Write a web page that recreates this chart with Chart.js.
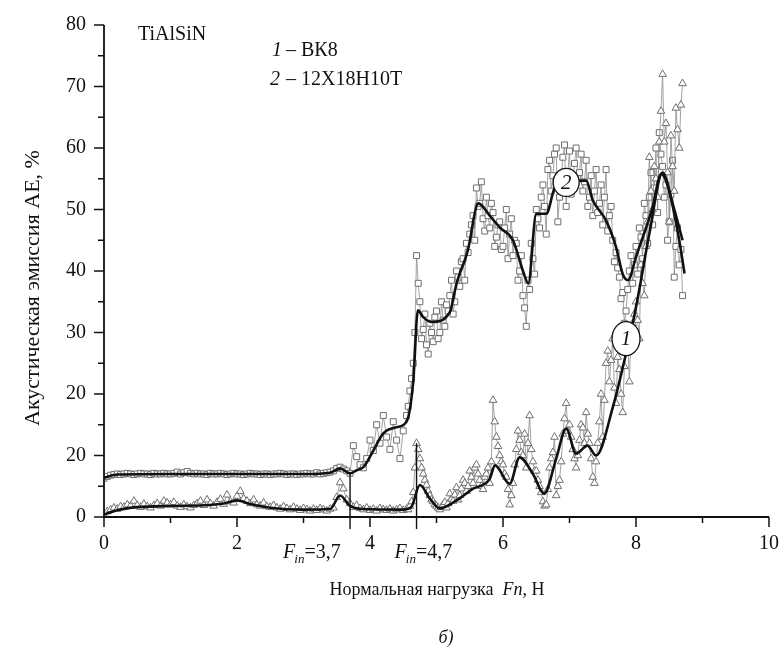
<!DOCTYPE html>
<html lang="ru">
<head>
<meta charset="UTF-8">
<title>TiAlSiN — акустическая эмиссия</title>
<script src="https://cdn.jsdelivr.net/npm/chart.js"></script>
<style>
  html, body { margin: 0; padding: 0; background: #fff; }
  #wrap { width: 783px; height: 648px; }
</style>
</head>
<body>
<div id="wrap"><canvas id="aeChart"></canvas></div>
<script>
// normal load Fn, N (sampling grid of the raw records)
const loadX = [
  0.00,0.05,0.10,0.15,0.20,0.25,0.30,0.35,0.40,0.45,
  0.50,0.55,0.60,0.65,0.70,0.75,0.80,0.85,0.90,0.95,
  1.00,1.05,1.10,1.15,1.20,1.25,1.30,1.35,1.40,1.45,
  1.50,1.55,1.60,1.65,1.70,1.75,1.80,1.85,1.90,1.95,
  2.00,2.05,2.10,2.15,2.20,2.25,2.30,2.35,2.40,2.45,
  2.50,2.55,2.60,2.65,2.70,2.75,2.80,2.85,2.90,2.95,
  3.00,3.05,3.10,3.15,3.20,3.25,3.30,3.35,3.40,3.45,
  3.50,3.55,3.60,3.65,3.70,3.75,3.80,3.85,3.90,3.95,
  4.00,4.05,4.10,4.15,4.20,4.25,4.30,4.35,4.40,4.45,
  4.50,4.55,4.60,4.65,4.70,4.75,4.80,4.85,4.90,4.95,
  5.00,5.05,5.10,5.15,5.20,5.25,5.30,5.35,5.40,5.45,
  5.50,5.55,5.60,5.65,5.70,5.75,5.80,5.85,5.90,5.95,
  6.00,6.05,6.10,6.15,6.20,6.25,6.30,6.35,6.40,6.45,
  6.50,6.55,6.60,6.65,6.70,6.75,6.80,6.85,6.90,6.95,
  7.00,7.05,7.10,7.15,7.20,7.25,7.30,7.35,7.40,7.45,
  7.50,7.55,7.60,7.65,7.70,7.75,7.80,7.85,7.90,7.95,
  8.00,8.05,8.10,8.15,8.20,8.25,8.30,8.35,8.40,8.45,
  8.50,8.55,8.60,8.65,8.70
];
// extra records between the grid points above, once fracture starts
const loadXMid = [
  4.575,4.625,4.675,4.725,4.775,4.825,4.875,4.925,4.975,
  5.025,5.075,5.125,5.175,5.225,5.275,5.325,5.375,5.425,5.475,
  5.525,5.575,5.625,5.675,5.725,5.775,5.825,5.875,5.925,5.975,
  6.025,6.075,6.125,6.175,6.225,6.275,6.325,6.375,6.425,6.475,
  6.525,6.575,6.625,6.675,6.725,6.775,6.825,6.875,6.925,6.975,
  7.025,7.075,7.125,7.175,7.225,7.275,7.325,7.375,7.425,7.475,
  7.525,7.575,7.625,7.675,7.725,7.775,7.825,7.875,7.925,7.975,
  8.025,8.075,8.125,8.175,8.225,8.275,8.325,8.375,8.425,8.475,
  8.525,8.575,8.625,8.675
];

// curve 1 — ВК8, raw AE, %
const aeVK8 = [
  0.3,0.9,1.2,1.5,1.3,1.7,1.6,2.0,1.8,2.6,
  1.9,1.6,2.1,1.7,1.5,1.9,2.2,1.8,2.6,2.3,
  2.0,2.4,1.8,1.6,2.0,1.7,1.5,1.9,2.2,2.6,
  1.9,2.8,2.2,1.8,2.4,2.9,2.1,3.6,2.5,2.3,
  3.4,4.2,3.0,2.6,2.2,2.8,2.0,1.8,2.3,1.7,
  1.6,1.9,1.5,1.3,1.7,1.4,1.2,1.6,1.3,1.1,
  1.4,1.2,1.0,1.3,1.1,1.4,1.2,1.0,1.3,1.5,
  3.2,5.6,4.6,2.8,2.2,1.6,1.9,1.4,1.2,1.5,
  1.1,1.3,1.0,1.4,1.2,1.1,1.3,1.0,1.2,1.4,
  1.1,1.3,1.8,4.0,12.0,9.5,7.0,5.2,3.5,2.5,
  1.8,1.2,2.0,1.5,3.8,2.6,4.8,3.5,6.0,4.2,
  7.5,5.5,8.5,6.0,4.5,7.0,5.5,19.0,13.0,10.0,
  8.5,6.5,2.0,5.5,11.0,12.5,10.0,8.0,16.5,9.0,
  7.5,5.0,2.5,2.0,8.0,10.5,3.5,6.0,13.5,18.5,
  15.0,11.0,8.0,12.5,14.5,17.0,12.0,6.5,9.0,15.5,
  13.0,25.0,22.0,29.0,18.5,24.0,17.0,27.0,22.0,31.5,
  35.0,29.0,38.0,44.0,58.5,50.0,55.0,61.0,72.0,64.0,
  48.0,57.0,66.5,60.0,70.5
];
const aeVK8Mid = [
  1.2,2.5,8.0,11.0,8.0,6.0,4.2,2.8,2.0,
  1.5,1.6,2.4,2.2,2.9,3.6,2.8,4.6,5.5,5.0,
  6.5,8.0,7.0,5.0,6.5,8.0,9.0,15.5,11.5,9.0,
  7.0,4.5,3.5,8.5,14.0,10.5,13.5,12.0,11.0,7.5,
  6.0,4.0,1.8,4.5,9.5,13.0,5.0,9.0,16.0,14.0,
  13.0,9.5,10.0,15.0,12.0,13.5,9.5,5.5,12.0,20.0,
  19.0,27.0,25.5,21.0,26.0,20.0,24.5,29.0,30.0,33.0,
  32.0,41.0,36.0,48.0,53.0,57.0,52.0,66.0,61.0,56.0,
  62.0,53.0,63.0,67.0
];

// curve 2 — 12Х18Н10Т, raw AE, %
const aeSteel = [
  6.3,6.6,6.8,6.9,7.0,6.9,7.0,7.1,7.0,6.9,
  7.0,7.1,7.0,7.0,6.9,7.1,7.0,7.0,7.1,7.0,
  7.0,7.1,7.3,7.0,7.2,7.4,7.1,7.0,7.1,7.0,
  7.0,6.9,7.1,7.0,7.0,7.1,7.0,6.9,7.0,7.1,
  7.0,7.0,6.9,7.0,7.1,7.0,7.0,6.9,7.0,7.0,
  6.9,7.0,7.0,7.1,7.0,6.9,7.0,7.0,6.9,7.0,
  7.0,7.1,7.0,7.0,7.2,7.0,7.1,7.2,7.3,7.5,
  7.9,8.1,7.8,7.5,7.1,11.6,9.8,8.5,8.0,9.5,
  12.5,10.8,15.0,12.0,16.5,13.0,11.0,15.5,12.5,9.5,
  14.0,16.5,20.5,25.0,42.5,35.0,30.5,28.0,31.5,28.5,
  33.5,30.0,32.0,34.5,36.0,33.0,40.0,37.5,42.0,44.5,
  46.0,49.0,53.5,51.0,48.5,52.0,47.0,49.5,45.5,48.0,
  44.0,50.0,46.0,42.5,44.5,40.0,36.0,31.0,37.0,42.0,
  50.0,47.0,54.0,46.0,58.0,55.5,60.0,52.0,58.5,50.5,
  59.5,54.0,60.0,56.0,53.0,58.0,52.0,49.0,56.5,51.0,
  47.5,56.5,49.0,45.0,43.0,39.0,36.5,33.5,40.0,38.0,
  44.0,47.0,42.0,49.0,52.0,47.5,60.0,62.5,57.0,54.0,
  48.0,58.0,44.0,41.0,36.0
];
const aeSteelMid = [
  18.0,22.5,30.0,38.0,29.0,33.0,26.5,30.0,32.5,
  29.0,35.0,31.0,33.5,38.5,35.0,39.0,41.5,38.5,43.0,
  47.5,45.0,50.5,54.5,46.5,49.0,51.0,44.0,47.5,43.5,
  47.0,42.0,48.5,45.0,38.5,42.5,34.0,38.5,44.5,39.5,
  48.5,52.0,50.5,56.5,53.0,59.0,48.0,55.0,60.5,56.0,
  52.5,57.5,55.0,59.0,54.5,50.5,55.5,53.0,49.5,54.0,
  52.0,46.5,50.5,41.5,40.5,35.5,31.5,37.0,42.5,41.0,
  39.5,45.5,51.0,44.5,56.0,53.5,49.5,59.0,52.0,45.0,
  52.5,39.0,47.0,43.5
];

// smoothed curves
const fitX1 = [0,0.2,0.5,1.0,1.5,1.8,2.0,2.2,2.5,3.0,3.4,3.55,3.7,3.9,4.5,4.62,4.75,4.9,5.05,5.3,5.55,5.8,5.88,6.1,6.25,6.45,6.62,6.8,6.95,7.1,7.27,7.4,7.65,7.85,8.0,8.2,8.4,8.55,8.7];
const fitY1 = [0.4,1.1,1.6,1.8,1.9,2.2,2.7,2.1,1.5,1.2,1.3,3.5,1.8,1.3,1.2,1.6,5.2,3.0,1.4,2.7,4.6,6.2,8.4,5.4,9.7,7.0,3.8,9.5,14.4,10.3,11.6,10.0,17.8,26.6,34.1,46.0,56.0,51.0,45.0];
const fitX2 = [0,0.2,1.0,2.0,3.0,3.4,3.55,3.7,3.8,3.9,4.05,4.2,4.4,4.55,4.65,4.72,4.8,4.93,5.2,5.3,5.47,5.63,5.8,5.95,6.15,6.3,6.38,6.5,6.65,6.78,6.95,7.25,7.35,7.55,7.7,7.8,7.88,8.0,8.25,8.38,8.5,8.65,8.73];
const fitY2 = [6.4,6.9,7.0,7.0,7.0,7.2,7.9,7.1,7.6,8.1,10.8,13.6,14.6,15.5,22.0,33.6,32.5,31.7,33.3,37.9,43.3,51.0,49.0,47.1,45.0,40.0,38.0,49.3,49.3,53.6,54.6,54.7,51.5,48.2,43.9,39.5,38.5,42.3,50.4,55.8,53.0,45.0,39.6];

// axis ticks
const xTicks = [0, 2, 4, 6, 8, 10];
const xTickLabels = ['0', '2', '4', '6', '8', '10'];
const yTicks = [0, 10, 20, 30, 40, 50, 60, 70, 80];
const yTickLabels = ['0', '20', '20', '30', '40', '50', '60', '70', '80'];

// onset loads marked on the x axis
const onsetLoads = [3.7, 4.7];
const onsetLabels = ['3,7', '4,7'];
const onsetTops = [7.1, 12.0];

// curve number tags
const tagText = ['1', '2'];
const tagAt = [[7.85, 29.0], [6.95, 54.4]];

const serif = '"Liberation Serif", "Times New Roman", serif';

// merge the two record sets into one x-ordered trace
function trace(xa, ya, xb, yb) {
  const all = xa.map((x, i) => ({ x, y: ya[i] })).concat(xb.map((x, i) => ({ x, y: yb[i] })));
  return all.sort((p, q) => p.x - q.x);
}
function pts(xs, ys) { return xs.map((x, i) => ({ x, y: ys[i] })); }

const paperAxes = {
  id: 'paperAxes',
  afterDatasetsDraw(chart) {
    const { ctx, chartArea: a, scales: { x, y } } = chart;
    ctx.save();
    ctx.strokeStyle = '#111';
    ctx.fillStyle = '#111';

    // onset markers
    ctx.lineWidth = 1.4;
    onsetLoads.forEach((v, i) => {
      const px = x.getPixelForValue(v);
      ctx.beginPath();
      ctx.moveTo(px, y.getPixelForValue(onsetTops[i]));
      ctx.lineTo(px, a.bottom + 12);
      ctx.stroke();
    });

    // axis lines
    ctx.lineWidth = 1.8;
    ctx.beginPath();
    ctx.moveTo(a.left, a.top);
    ctx.lineTo(a.left, a.bottom);
    ctx.lineTo(a.right, a.bottom);
    ctx.stroke();

    // ticks
    ctx.lineWidth = 1.5;
    for (let v = 0; v <= 80; v += 5) {
      const py = y.getPixelForValue(v);
      const len = v % 10 === 0 ? 10 : 6;
      ctx.beginPath(); ctx.moveTo(a.left - len, py); ctx.lineTo(a.left, py); ctx.stroke();
    }
    for (let v = 0; v <= 10; v += 1) {
      const px = x.getPixelForValue(v);
      const len = v % 2 === 0 ? 10 : 6;
      ctx.beginPath(); ctx.moveTo(px, a.bottom); ctx.lineTo(px, a.bottom + len); ctx.stroke();
    }

    // tick labels
    ctx.font = '20px ' + serif;
    ctx.textAlign = 'right';
    ctx.textBaseline = 'middle';
    yTicks.forEach((v, i) => ctx.fillText(yTickLabels[i], a.left - 18, y.getPixelForValue(v)));
    ctx.textAlign = 'center';
    xTicks.forEach((v, i) => ctx.fillText(xTickLabels[i], x.getPixelForValue(v), a.bottom + 27));

    // F_in labels
    const shift = [-67, -22];
    ctx.textAlign = 'left';
    ctx.textBaseline = 'alphabetic';
    onsetLoads.forEach((v, i) => {
      let px = x.getPixelForValue(v) + shift[i];
      const base = a.bottom + 41;
      ctx.font = 'italic 20px ' + serif;
      ctx.fillText('F', px, base);
      px += ctx.measureText('F').width - 1;
      ctx.font = 'italic 13px ' + serif;
      ctx.fillText('in', px, base + 5);
      px += ctx.measureText('in').width;
      ctx.font = '20px ' + serif;
      ctx.fillText('=' + onsetLabels[i], px, base);
    });

    // x axis title
    const t1 = 'Нормальная нагрузка  ', t2 = 'Fn', t3 = ', Н';
    ctx.font = '18px ' + serif; const w1 = ctx.measureText(t1).width, w3 = ctx.measureText(t3).width;
    ctx.font = 'italic 18px ' + serif; const w2 = ctx.measureText(t2).width;
    let tx = 437 - (w1 + w2 + w3) / 2;
    const ty = 595;
    ctx.font = '18px ' + serif; ctx.fillText(t1, tx, ty); tx += w1;
    ctx.font = 'italic 18px ' + serif; ctx.fillText(t2, tx, ty); tx += w2;
    ctx.font = '18px ' + serif; ctx.fillText(t3, tx, ty);

    // y axis title
    ctx.save();
    ctx.translate(33, 288);
    ctx.rotate(-Math.PI / 2);
    ctx.textAlign = 'center';
    ctx.textBaseline = 'middle';
    ctx.font = '22px ' + serif;
    ctx.fillText('Акустическая эмиссия АЕ, %', 0, 0);
    ctx.restore();

    ctx.textAlign = 'center';
    ctx.font = 'italic 18px ' + serif;
    ctx.fillText('б)', 446, 643);

    // header text and legend
    ctx.textAlign = 'left';
    ctx.textBaseline = 'middle';
    ctx.font = '20px ' + serif;
    ctx.fillText('TiAlSiN', 138, 35);
    ctx.font = 'italic 20px ' + serif;
    ctx.fillText('1', 272, 51);
    ctx.fillText('2', 270, 80);
    ctx.font = '20px ' + serif;
    ctx.fillText(' – ВК8', 281, 51);
    ctx.fillText(' – 12Х18Н10Т', 281, 80);

    // curve tags
    tagAt.forEach((p, i) => {
      const cx = x.getPixelForValue(p[0]), cy = y.getPixelForValue(p[1]);
      const rx = i === 0 ? 14 : 13, ry = i === 0 ? 17 : 14;
      ctx.beginPath();
      ctx.ellipse(cx, cy, rx, ry, 0, 0, Math.PI * 2);
      ctx.fillStyle = '#fff'; ctx.fill();
      ctx.lineWidth = 1.3; ctx.strokeStyle = '#111'; ctx.stroke();
      ctx.fillStyle = '#111';
      ctx.textAlign = 'center';
      ctx.font = 'italic 21px ' + serif;
      ctx.fillText(tagText[i], cx, cy + 1);
    });
    ctx.restore();
  }
};

new Chart(document.getElementById('aeChart'), {
  type: 'scatter',
  data: {
    datasets: [
      {
        label: 'fit 1', type: 'line', data: pts(fitX1, fitY1), order: 0,
        borderColor: '#111', borderWidth: 2.6, pointRadius: 0,
        cubicInterpolationMode: 'monotone', fill: false
      },
      {
        label: 'fit 2', type: 'line', data: pts(fitX2, fitY2), order: 0,
        borderColor: '#111', borderWidth: 2.6, pointRadius: 0,
        cubicInterpolationMode: 'monotone', fill: false
      },
      {
        label: 'ВК8', data: trace(loadX, aeVK8, loadXMid, aeVK8Mid), order: 1, showLine: true,
        borderColor: '#8c8c8c', borderWidth: 0.8,
        pointStyle: 'triangle', pointRadius: 4.4,
        pointBackgroundColor: '#fff', pointBorderColor: '#6f6f6f', pointBorderWidth: 1
      },
      {
        label: '12Х18Н10Т', data: trace(loadX, aeSteel, loadXMid, aeSteelMid), order: 2, showLine: true,
        borderColor: '#8c8c8c', borderWidth: 0.8,
        pointStyle: 'rect', pointRadius: 4.2,
        pointBackgroundColor: '#fff', pointBorderColor: '#6f6f6f', pointBorderWidth: 1
      }
    ]
  },
  options: {
    responsive: true,
    maintainAspectRatio: false,
    animation: false,
    layout: { padding: { left: 104, right: 14, top: 25, bottom: 131 } },
    scales: {
      x: { type: 'linear', min: 0, max: 10, display: false },
      y: { type: 'linear', min: 0, max: 80, display: false }
    },
    plugins: { legend: { display: false }, tooltip: { enabled: false } }
  },
  plugins: [paperAxes]
});
</script>
</body>
</html>
